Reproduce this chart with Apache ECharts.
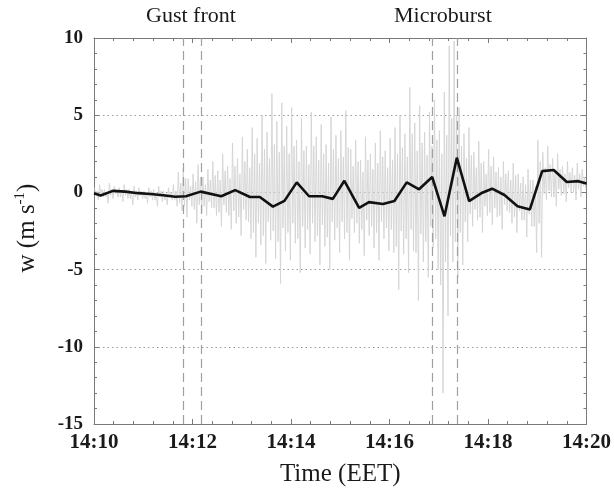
<!DOCTYPE html>
<html>
<head>
<meta charset="utf-8">
<script src="https://cdn.jsdelivr.net/npm/echarts@6/dist/echarts.min.js"></script>
<style>html,body{margin:0;padding:0;background:#fff}#c{width:614px;height:495px}</style>
</head>
<body>
<div id="c"></div>
<script>
// x values are seconds after 14:10 EET
var xTickLabels = ['14:10','14:12','14:14','14:16','14:18','14:20'];
var yTicks = [-15,-10,-5,0,5,10];

// 15-s mean vertical velocity (black line)
var meanTime = [0,8,23,38,54,69,84,99,112,130,155,172,190,202,218,232,247,262,278,291,305,323,335,352,366,381,396,412,427,442,457,473,485,500,516,531,546,560,576,590,600];
var meanW    = [-0.05,-0.2,0.1,0.05,-0.05,-0.1,-0.18,-0.28,-0.25,0.05,-0.25,0.15,-0.3,-0.3,-0.92,-0.55,0.65,-0.25,-0.25,-0.42,0.75,-1.0,-0.63,-0.75,-0.56,0.65,0.2,1.0,-1.55,2.25,-0.56,-0.02,0.24,-0.17,-0.89,-1.1,1.38,1.45,0.67,0.73,0.58];

// raw signal, read per 6-s bin (grey trace): outer spikes and dense core band
var rawHigh = [0.3,0.5,0.2,0.6,0.4,0.3,0.5,0.2,0.4,0.3,0.1,0.3,0.2,0.4,0.1,0.3,0.5,
  1.3,1.6,0.9,1.2,1.8,1.0,1.5,
  2.0,1.4,2.5,1.7,3.2,2.2,3.6,
  2.8,4.2,3.5,5.0,3.9,6.4,4.6,5.8,
  4.3,5.5,3.4,4.8,3.0,5.2,3.6,4.4,3.1,4.9,3.7,
  4.0,5.3,2.8,3.4,2.1,3.6,2.5,3.2,4.0,2.7,
  3.5,4.2,5.0,3.8,6.8,4.5,5.6,3.9,5.2,
  6.0,4.0,6.5,9.5,9.8,
  5.5,3.8,4.2,2.6,3.3,2.0,2.8,
  2.3,1.6,2.0,1.4,1.9,1.2,1.0,1.5,0.8,
  3.4,2.6,3.0,2.2,2.5,1.7,2.0,1.6,1.9,1.5];
var rawLow = [-0.5,-0.3,-0.7,-0.4,-0.3,-0.6,-0.4,-0.8,-0.5,-0.4,-0.7,-0.5,-0.9,-0.6,-0.8,-0.5,-0.9,
  -1.2,-1.6,-0.9,-2.0,-1.3,-1.5,-1.0,
  -1.5,-2.2,-1.3,-2.4,-2.0,-2.8,-1.8,
  -3.0,-4.2,-3.4,-4.6,-3.1,-4.3,-5.9,-3.8,
  -4.4,-3.3,-5.2,-3.6,-4.0,-3.2,-4.7,-3.5,-5.0,-3.1,-3.9,
  -3.0,-4.4,-2.6,-3.3,-4.1,-2.8,-3.6,-4.4,-3.0,-3.8,
  -3.9,-6.3,-4.0,-5.2,-3.8,-7.0,-4.5,-5.5,-3.6,
  -5.0,-13.0,-8.0,-4.5,-5.5,
  -4.7,-3.2,-2.2,-1.8,-2.6,-1.5,-2.1,
  -1.6,-2.4,-1.2,-2.0,-2.6,-1.8,-2.9,-2.2,-3.9,
  -4.2,-0.5,-0.3,-0.9,-0.2,-0.6,0.0,-0.5,-0.3,0.2];
var coreHigh = [0.1,0.2,0.0,0.2,0.1,0.1,0.2,0.0,0.1,0.1,-0.1,0.1,0.0,0.1,-0.1,0.0,0.1,
  0.6,0.9,0.4,0.7,1.0,0.5,0.8,
  1.1,0.8,1.4,0.9,1.7,1.2,2.0,
  1.6,2.5,1.9,2.8,2.2,3.1,2.6,3.0,
  2.5,3.0,2.0,2.7,1.8,3.0,2.1,2.5,1.9,2.8,2.2,
  2.3,2.9,1.7,2.0,1.3,2.1,1.5,1.9,2.3,1.6,
  2.1,2.5,2.9,2.3,3.8,2.7,3.2,2.4,3.0,
  3.4,2.5,3.7,4.8,5.0,
  3.0,2.2,2.4,1.6,1.9,1.2,1.7,
  1.3,1.0,1.2,0.8,1.1,0.6,0.5,0.8,0.4,
  2.0,1.6,1.8,1.4,1.5,1.2,1.3,1.1,1.2,1.0];
var coreLow = [-0.2,-0.1,-0.3,-0.2,-0.1,-0.3,-0.2,-0.4,-0.3,-0.2,-0.4,-0.3,-0.5,-0.3,-0.5,-0.3,-0.5,
  -0.7,-0.9,-0.5,-1.1,-0.8,-0.9,-0.6,
  -1.0,-1.3,-0.8,-1.5,-1.2,-1.6,-1.1,
  -1.9,-2.6,-2.0,-2.8,-1.9,-2.5,-3.2,-2.3,
  -2.6,-2.0,-3.0,-2.2,-2.4,-2.0,-2.8,-2.1,-2.9,-1.9,-2.3,
  -1.9,-2.6,-1.7,-2.0,-2.4,-1.8,-2.2,-2.6,-1.9,-2.3,
  -2.4,-3.5,-2.5,-3.0,-2.4,-3.9,-2.7,-3.2,-2.2,
  -3.0,-6.0,-4.5,-2.8,-3.2,
  -2.6,-1.9,-1.4,-1.1,-1.6,-0.9,-1.3,
  -1.0,-1.5,-0.8,-1.3,-1.6,-1.2,-1.8,-1.4,-2.2,
  -2.0,-0.1,0.1,-0.3,0.2,-0.1,0.3,0.0,0.2,0.4];
var binSeconds = 6;

// event markers (seconds after 14:10)
var gustFrontTimes = [109, 131];
var microburstTimes = [412, 442];
var eventLabels = ['Gust front', 'Microburst'];

var rawData = [];
for (var k = 0; k < rawHigh.length; k++) {
  var t0 = k * binSeconds;
  rawData.push([t0 + 0.75, rawHigh[k]]);
  rawData.push([t0 + 2.25, coreLow[k]]);
  rawData.push([t0 + 3.75, coreHigh[k]]);
  rawData.push([t0 + 5.25, rawLow[k]]);
}
var meanData = meanTime.map(function (t, i) { return [t, meanW[i]]; });

var serif = 'Liberation Serif, Times New Roman, serif';
var axisCol = '#7a7a7a';
var chart = echarts.init(document.getElementById('c'), null, {renderer: 'canvas'});
var baseX = {
  type: 'value', min: 0, max: 600, interval: 120,
  axisLine: {show: true, onZero: false, lineStyle: {color: axisCol, width: 1}},
  axisTick: {show: true, inside: true, length: 5, lineStyle: {color: axisCol}},
  minorTick: {show: true, splitNumber: 5, length: 3, lineStyle: {color: axisCol}},
  splitLine: {show: false}
};
var baseY = {
  type: 'value', min: -15, max: 10, interval: 5,
  axisLine: {show: true, onZero: false, lineStyle: {color: axisCol, width: 1}},
  axisTick: {show: true, inside: true, length: 5, lineStyle: {color: axisCol}},
  minorTick: {show: true, splitNumber: 5, length: 3, lineStyle: {color: axisCol}}
};
var dashLines = gustFrontTimes.concat(microburstTimes).map(function (t) { return {xAxis: t}; });

chart.setOption({
  animation: false,
  backgroundColor: '#ffffff',
  grid: {left: 94, right: 21, top: 38, bottom: 71, containLabel: false},
  xAxis: [
    Object.assign({}, baseX, {
      position: 'bottom',
      name: 'Time (EET)', nameLocation: 'middle', nameGap: 38,
      nameTextStyle: {fontFamily: serif, fontSize: 25, color: '#1a1a1a'},
      axisLabel: {show: true, margin: 8, fontFamily: serif, fontSize: 21, fontWeight: 'bold', color: '#1a1a1a',
        formatter: function (v) { return xTickLabels[Math.round(v / 120)]; }}
    }),
    Object.assign({}, baseX, {position: 'top', axisLabel: {show: false}})
  ],
  yAxis: [
    Object.assign({}, baseY, {
      position: 'left',
      name: 'w (m s{sup|-1})', nameLocation: 'middle', nameGap: 52, nameRotate: 90,
      nameTextStyle: {fontFamily: serif, fontSize: 25, color: '#1a1a1a', padding: [0, 0, 0, 6],
        rich: {sup: {fontFamily: serif, fontSize: 15, color: '#1a1a1a', padding: [0, 0, 14, 0]}}},
      axisLabel: {show: true, margin: 11, fontFamily: serif, fontSize: 19, fontWeight: 'bold', color: '#1a1a1a'},
      splitLine: {show: true, lineStyle: {color: '#9a9a9a', type: [1.5, 3], width: 1}}
    }),
    Object.assign({}, baseY, {position: 'right', axisLabel: {show: false}, splitLine: {show: false}})
  ],
  series: [
    {
      type: 'line', xAxisIndex: 0, yAxisIndex: 0, data: rawData, showSymbol: false, symbol: 'none',
      lineStyle: {color: '#d4d4d4', width: 0.9}, z: 1, silent: true,
      markLine: {
        silent: true, symbol: ['none', 'none'], label: {show: false},
        lineStyle: {color: '#a0a0a0', type: [9, 5], width: 1.2},
        data: dashLines
      }
    },
    {
      type: 'line', xAxisIndex: 0, yAxisIndex: 0, data: meanData, showSymbol: false, symbol: 'none',
      lineStyle: {color: '#111111', width: 2.6}, z: 5
    }
  ],
  graphic: [
    {type: 'text', left: 146, top: 5, style: {text: eventLabels[0], font: '22px ' + serif, fill: '#1a1a1a'}},
    {type: 'text', left: 394, top: 5, style: {text: eventLabels[1], font: '22px ' + serif, fill: '#1a1a1a'}}
  ]
});
</script>
</body>
</html>
